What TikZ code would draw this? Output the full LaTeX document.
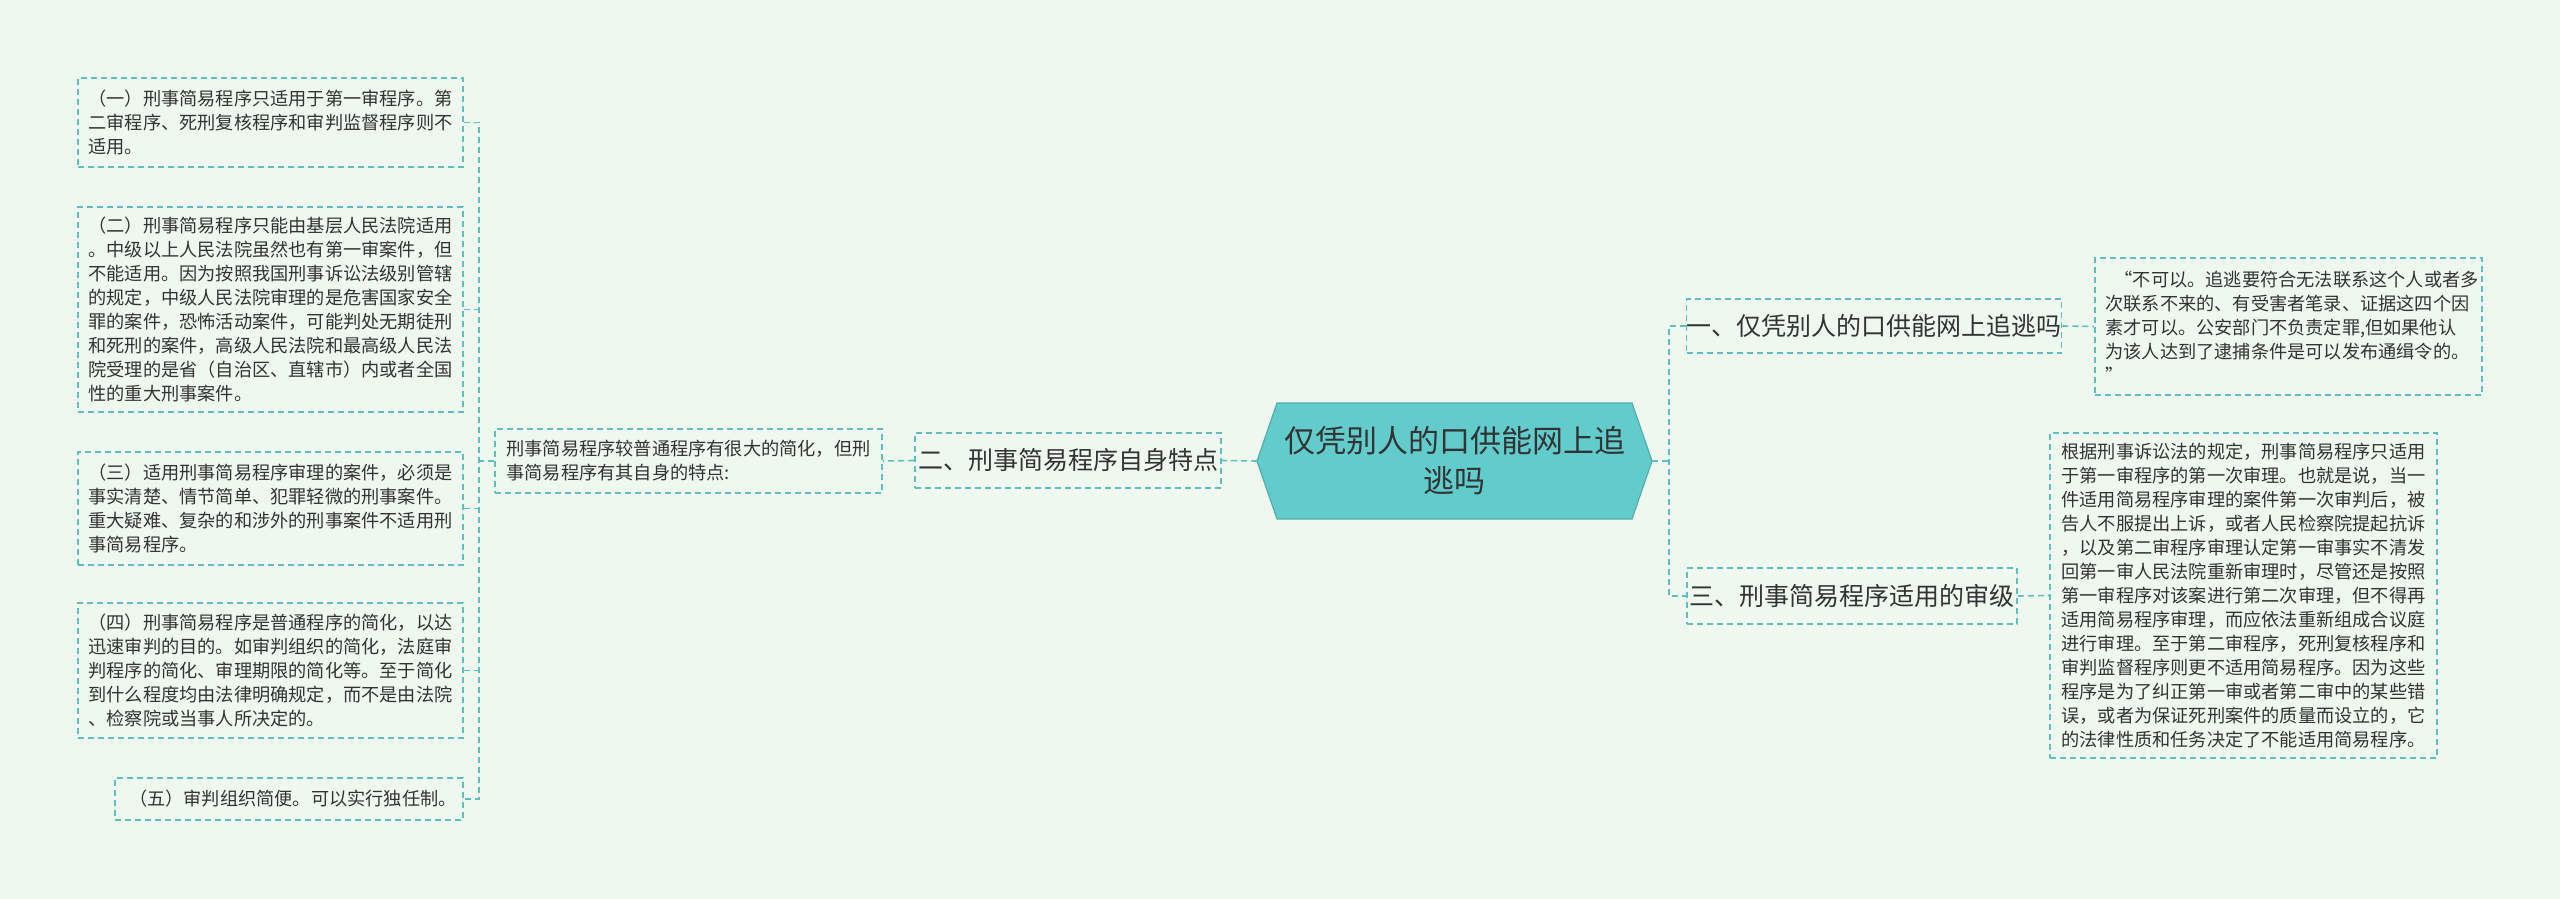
\documentclass[tikz,border=0pt]{standalone}
\usepackage{fontspec}
\setmainfont{Noto Sans CJK SC}
\definecolor{bg}{HTML}{EEF8EF}
\definecolor{ln}{HTML}{5DBFC2}
\definecolor{cf}{HTML}{62CCCC}
\definecolor{tx}{HTML}{333333}
\tikzset{
  conn/.style={draw=ln,line width=0.8pt,dash pattern=on 3pt off 2pt},
  leaf/.style={conn,text=tx,align=left,text width=182pt,inner sep=0pt,font=\fontsize{9.1}{12}\selectfont},
  mid/.style={conn,text=tx,align=center,inner sep=0pt,font=\fontsize{12.5}{15}\selectfont},
}
\begin{document}
\begin{tikzpicture}[x=0.5pt,y=-0.5pt]
\useasboundingbox (0,0) rectangle (2560,899);
\fill[bg] (0,0) rectangle (2560,899);
% center
\fill[cf] (1257,461)--(1277,403)--(1632,403)--(1652,461)--(1632,519)--(1277,519)--cycle;
\draw[draw=cf!85!black,line width=0.6pt] (1257,461)--(1277,403)--(1632,403)--(1652,461)--(1632,519)--(1277,519)--cycle;
\node[text=tx,align=center,font=\fontsize{15.5}{20}\selectfont] (c) at (1454.5,461) {仅凭别人的口供能网上追\\逃吗};
\coordinate (cw) at (1257,461);
\coordinate (ce) at (1652,461);
% right
\node[mid,minimum width=187pt,minimum height=27pt] (n1) at (1874,326) {一、仅凭别人的口供能网上追逃吗};
\node[mid,minimum width=165pt,minimum height=28pt] (n3) at (1852,596) {三、刑事简易程序适用的审级};
\node[leaf,minimum width=193.5pt,minimum height=68.5pt,text width=183pt] (r1) at (2288.5,326.5) {\hspace*{0.5em}“不可以。追逃要符合无法联系这个人或者多\\次联系不来的、有受害者笔录、证据这四个因\\素才可以。公安部门不负责定罪,但如果他认\\为该人达到了逮捕条件是可以发布通缉令的。\\”};
\node[leaf,minimum width=193.5pt,minimum height=162.5pt] (r2) at (2243.5,595.5) {根据刑事诉讼法的规定，刑事简易程序只适用\\于第一审程序的第一次审理。也就是说，当一\\件适用简易程序审理的案件第一次审判后，被\\告人不服提出上诉，或者人民检察院提起抗诉\\，以及第二审程序审理认定第一审事实不清发\\回第一审人民法院重新审理时，尽管还是按照\\第一审程序对该案进行第二次审理，但不得再\\适用简易程序审理，而应依法重新组成合议庭\\进行审理。至于第二审程序，死刑复核程序和\\审判监督程序则更不适用简易程序。因为这些\\程序是为了纠正第一审或者第二审中的某些错\\误，或者为保证死刑案件的质量而设立的，它\\的法律性质和任务决定了不能适用简易程序。};
\coordinate (rj) at (1669,461);
\draw[conn] (ce) -- (rj);
\draw[conn] (n1.west) -| (rj) |- (n3.west);
\draw[conn] (n1.east) -- (r1.west);
\draw[conn] (n3.east) -- (r2.west);
% left
\node[mid,minimum width=153pt,minimum height=27.5pt] (n2) at (1068,460.5) {二、刑事简易程序自身特点};
\node[leaf,minimum width=193.5pt,minimum height=32pt] (t) at (688.5,461) {刑事简易程序较普通程序有很大的简化，但刑\\事简易程序有其自身的特点:};
\draw[conn] (cw) -- (n2.east);
\draw[conn] (n2.west) -- (t.east);
\node[leaf,minimum width=192.5pt,minimum height=44.5pt] (l1) at (270.5,122.5) {（一）刑事简易程序只适用于第一审程序。第\\二审程序、死刑复核程序和审判监督程序则不\\适用。};
\node[leaf,minimum width=192.5pt,minimum height=102.5pt] (l2) at (270.5,309.5) {（二）刑事简易程序只能由基层人民法院适用\\。中级以上人民法院虽然也有第一审案件，但\\不能适用。因为按照我国刑事诉讼法级别管辖\\的规定，中级人民法院审理的是危害国家安全\\罪的案件，恐怖活动案件，可能判处无期徒刑\\和死刑的案件，高级人民法院和最高级人民法\\院受理的是省（自治区、直辖市）内或者全国\\性的重大刑事案件。};
\node[leaf,minimum width=192.5pt,minimum height=56.5pt] (l3) at (270.5,508.5) {（三）适用刑事简易程序审理的案件，必须是\\事实清楚、情节简单、犯罪轻微的刑事案件。\\重大疑难、复杂的和涉外的刑事案件不适用刑\\事简易程序。};
\node[leaf,minimum width=192.5pt,minimum height=67.5pt] (l4) at (270.5,670.5) {（四）刑事简易程序是普通程序的简化，以达\\迅速审判的目的。如审判组织的简化，法庭审\\判程序的简化、审理期限的简化等。至于简化\\到什么程度均由法律明确规定，而不是由法院\\、检察院或当事人所决定的。};
\node[leaf,minimum width=174pt,minimum height=21pt,text width=160pt,align=center] (l5) at (289,799) {（五）审判组织简便。可以实行独任制。};
\coordinate (lj) at (479,461);
\draw[conn] (t.west) -- (lj);
\draw[conn] (l1.east) -| (lj) |- (l5.east);
\draw[conn] (l2.east) -- (l2.east -| lj);
\draw[conn] (l3.east) -- (l3.east -| lj);
\draw[conn] (l4.east) -- (l4.east -| lj);
\end{tikzpicture}
\end{document}
